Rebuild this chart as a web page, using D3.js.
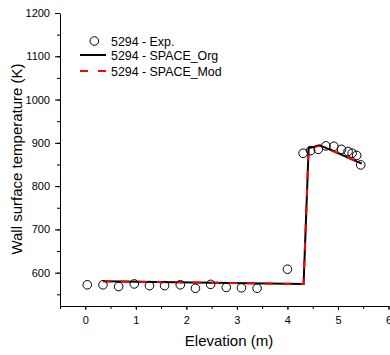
<!DOCTYPE html>
<html>
<head>
<meta charset="utf-8">
<script src="https://cdn.jsdelivr.net/npm/d3@7"></script>
<style>
  body { margin: 0; background: #fff; }
  svg { display: block; font-family: "Liberation Sans", Arial, sans-serif; }
</style>
</head>
<body>
<svg id="chart" width="390" height="355"></svg>
<script>
// wall surface temperature along the elevation, test 5294
// experiment as open circles, two SPACE runs as lines

// experimental points
const expElevation = [0.04, 0.35, 0.66, 0.97, 1.27, 1.57, 1.88, 2.18, 2.48, 2.79, 3.09, 3.40, 4.00,
  4.31, 4.46, 4.61, 4.76, 4.92, 5.07, 5.20, 5.28, 5.37, 5.45];
const expTemp = [572, 572, 568, 574, 570, 570, 572, 564, 573, 566, 565, 564, 608,
  876, 882, 885, 893, 892, 885, 880, 876, 871, 849];

// SPACE original model
const orgElevation = [0.35, 4.32, 4.42, 4.65, 5.47];
const orgTemp = [580, 574, 888, 894, 852];

// SPACE modified model
const modElevation = [0.35, 4.32, 4.42, 4.65, 5.47];
const modTemp = [580, 574, 888, 894, 852];

const xTicks = [0, 1, 2, 3, 4, 5, 6];
const yTicks = [600, 700, 800, 900, 1000, 1100, 1200];

const legendLabels = ['5294 - Exp.', '5294 - SPACE_Org', '5294 - SPACE_Mod'];

const svg = d3.select('#chart');

// scales, plot area from x=60 to the right edge
const xScale = d3.scaleLinear()
  .domain([-0.5, 6])
  .range([60, 388.5]);

const yScale = d3.scaleLinear()
  .domain([523, 1200])
  .range([306, 13]);

// minor ticks first, no labels
svg.append('g')
  .attr('transform', 'translate(0,306)')
  .call(d3.axisBottom(xScale).tickValues(d3.range(-0.5, 6.01, 0.5)).tickSize(3).tickSizeOuter(0).tickFormat(''))
  .call(g => g.select('.domain').remove());

svg.append('g')
  .attr('transform', 'translate(60,0)')
  .call(d3.axisLeft(yScale).tickValues(d3.range(550, 1201, 50)).tickSize(3).tickSizeOuter(0).tickFormat(''))
  .call(g => g.select('.domain').remove());

// major x axis
svg.append('g')
  .attr('transform', 'translate(0,306)')
  .call(d3.axisBottom(xScale).tickValues(xTicks).tickFormat(d3.format('d'))
    .tickSize(4).tickSizeOuter(0).tickPadding(6.5));

// major y axis
svg.append('g')
  .attr('transform', 'translate(60,0)')
  .call(d3.axisLeft(yScale).tickValues(yTicks).tickFormat(d3.format('d'))
    .tickSize(5).tickSizeOuter(0).tickPadding(5));

svg.selectAll('.tick text')
  .attr('font-size', 11)
  .attr('font-family', '"Liberation Sans", Arial, sans-serif')
  .attr('fill', '#000');
svg.selectAll('.domain, .tick line').attr('stroke', '#000');

// axis titles
svg.append('text')
  .attr('x', 229)
  .attr('y', 346)
  .attr('text-anchor', 'middle')
  .attr('font-size', 15)
  .text('Elevation (m)');

svg.append('text')
  .attr('transform', 'translate(22,159) rotate(-90)')
  .attr('text-anchor', 'middle')
  .attr('font-size', 15)
  .text('Wall surface temperature (K)');

// lines
const line = d3.line()
  .x(d => xScale(d[0]))
  .y(d => yScale(d[1]));

svg.append('path')
  .datum(orgElevation.map((e, i) => [e, orgTemp[i]]))
  .attr('fill', 'none')
  .attr('stroke', '#000')
  .attr('stroke-width', 2)
  .attr('d', line);

svg.append('path')
  .datum(modElevation.map((e, i) => [e, modTemp[i]]))
  .attr('fill', 'none')
  .attr('stroke', '#ff0000')
  .attr('stroke-width', 2)
  .attr('stroke-dasharray', '8,10')
  .attr('d', line);

// experiment circles
svg.selectAll('.exp')
  .data(expElevation.map((e, i) => [e, expTemp[i]]))
  .enter()
  .append('circle')
  .attr('class', 'exp')
  .attr('cx', d => xScale(d[0]))
  .attr('cy', d => yScale(d[1]))
  .attr('r', 4.3)
  .attr('fill', 'none')
  .attr('stroke', '#000')
  .attr('stroke-width', 1);

// legend
const legend = svg.append('g');

legend.append('circle')
  .attr('cx', 94.3).attr('cy', 41).attr('r', 4.3)
  .attr('fill', 'none').attr('stroke', '#000').attr('stroke-width', 1);

legend.append('line')
  .attr('x1', 80).attr('x2', 106).attr('y1', 55).attr('y2', 55)
  .attr('stroke', '#000').attr('stroke-width', 2);

legend.append('line')
  .attr('x1', 80).attr('x2', 106).attr('y1', 71).attr('y2', 71)
  .attr('stroke', '#ff0000').attr('stroke-width', 2).attr('stroke-dasharray', '8,10');

legend.selectAll('.leg-text')
  .data(legendLabels)
  .enter()
  .append('text')
  .attr('class', 'leg-text')
  .attr('x', 111)
  .attr('y', (d, i) => [46, 59.5, 76][i])
  .attr('font-size', 12.4)
  .text(d => d);
</script>
</body>
</html>
